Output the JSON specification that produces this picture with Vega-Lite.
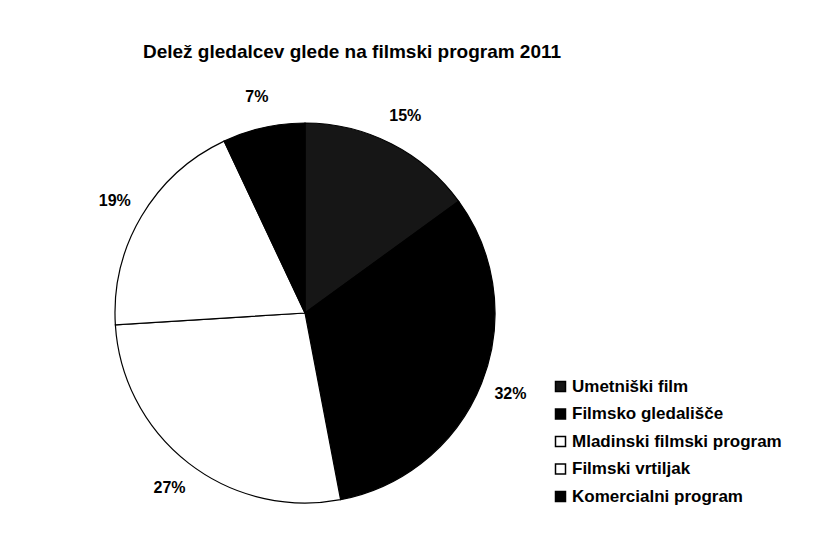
{
  "$schema": "https://vega.github.io/schema/vega-lite/v6.json",
  "autosize": {"type": "none"},
  "width": 380,
  "height": 380,
  "padding": {"left": 115, "top": 123, "right": 331, "bottom": 38},
  "background": "white",
  "title": {
    "text": "Delež gledalcev glede na filmski program 2011",
    "font": "Liberation Sans",
    "fontSize": 19,
    "fontWeight": "bold",
    "color": "black",
    "anchor": "middle",
    "frame": "group",
    "dx": 47,
    "offset": 27
  },
  "data": {
    "values": [
      {"kategorija": "Umetniški film", "delez": 0.15, "red": 1},
      {"kategorija": "Filmsko gledališče", "delez": 0.32, "red": 2},
      {"kategorija": "Mladinski filmski program", "delez": 0.27, "red": 3},
      {"kategorija": "Filmski vrtiljak", "delez": 0.19, "red": 4},
      {"kategorija": "Komercialni program", "delez": 0.07, "red": 5}
    ]
  },
  "encoding": {
    "theta": {"field": "delez", "type": "quantitative", "stack": true},
    "order": {"field": "red", "type": "ordinal"}
  },
  "layer": [
    {
      "mark": {"type": "arc", "stroke": "black", "strokeWidth": 1.2},
      "encoding": {
        "color": {
          "field": "kategorija",
          "type": "nominal",
          "sort": null,
          "scale": {
            "domain": ["Umetniški film", "Filmsko gledališče", "Mladinski filmski program", "Filmski vrtiljak", "Komercialni program"],
            "range": ["#161616", "#000000", "#ffffff", "#ffffff", "#000000"]
          },
          "legend": {
            "title": null,
            "orient": "none",
            "legendX": 437,
            "legendY": 255,
            "symbolType": "square",
            "symbolSize": 100,
            "symbolStrokeColor": "black",
            "symbolStrokeWidth": 1.5,
            "symbolOpacity": 1,
            "labelFont": "Liberation Sans",
            "labelFontSize": 17,
            "labelFontWeight": "bold",
            "labelColor": "black",
            "labelLimit": 400,
            "labelOffset": 3,
            "rowPadding": 9.5
          }
        }
      }
    },
    {
      "mark": {"type": "text", "radius": 221, "font": "Liberation Sans", "fontSize": 16, "fontWeight": "bold", "color": "black"},
      "encoding": {
        "text": {"field": "delez", "type": "quantitative", "format": ".0%"}
      }
    }
  ]
}
